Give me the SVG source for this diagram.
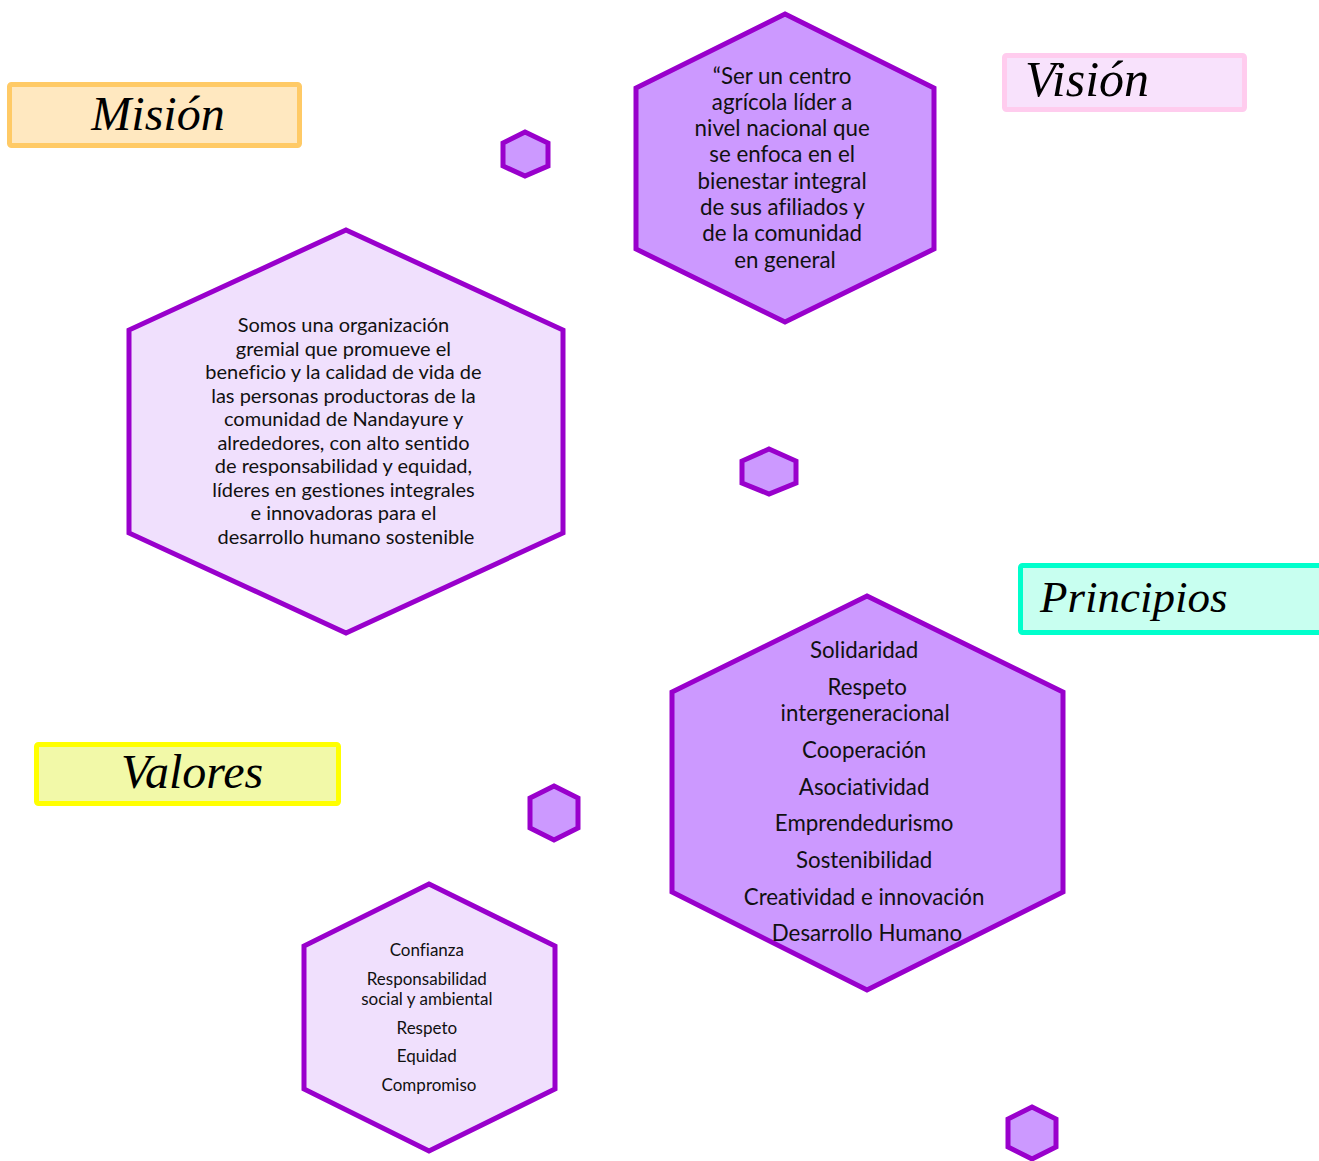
<svg xmlns="http://www.w3.org/2000/svg" width="1319" height="1161" viewBox="0 0 1319 1161">
<style>
.hexd{fill:#CC99FF;stroke:#9900CC;stroke-width:5;stroke-linejoin:miter}
.hexl{fill:#F0E0FD;stroke:#9900CC;stroke-width:5}
.hexs{fill:#CC99FF;stroke:#9900CC;stroke-width:5}
.title{font-family:"Liberation Serif",serif;font-style:italic;fill:#000}
.body{font-family:Lato,"Liberation Sans",sans-serif;fill:#111;text-anchor:middle;font-variant-ligatures:none}
</style>
<rect width="1319" height="1161" fill="#fff"/>
<g id="mision-title">
<rect x="9.5" y="84.5" width="290" height="61" rx="2" fill="#FFE8C0" stroke="#FFCA66" stroke-width="5"/>
<text class="title" font-size="48" x="158" y="130" text-anchor="middle">Misión</text>
</g>
<g id="vision-title">
<rect x="1004.5" y="55.5" width="240" height="54" rx="2" fill="#F8E2FC" stroke="#FFCCEE" stroke-width="5"/>
<text class="title" font-size="50" x="1025" y="96">Visión</text>
</g>
<g id="principios-title">
<rect x="1020.5" y="565.5" width="310" height="67" rx="2" fill="#C8FFF0" stroke="#00FFCC" stroke-width="5"/>
<text class="title" font-size="45" x="1040" y="612">Principios</text>
</g>
<g id="valores-title">
<rect x="36.5" y="744.5" width="302" height="59" rx="2" fill="#F2F9A8" stroke="#FFFF00" stroke-width="5"/>
<text class="title" font-size="48" x="192" y="788" text-anchor="middle">Valores</text>
</g>
<g id="hex-small-1"><polygon class="hexs" points="525,132 548,143 548,166 525,176 503,166 503,143"/></g>
<g id="hex-small-2"><polygon class="hexs" points="769,449 796,461 796,483 769,494 742,483 742,461"/></g>
<g id="hex-small-3"><polygon class="hexs" points="554,786 578,798 578,828 554,840 530,828 530,798"/></g>
<g id="hex-small-4"><polygon class="hexs" points="1032,1107 1056,1119 1056,1147 1032,1159 1008,1147 1008,1119"/></g>
<g id="vision">
<polygon class="hexd" points="785,14 934,88 934,249 785,322 636,249 636,88"/>
<text class="body" font-size="22.3">
<tspan x="785" y="84">“Ser un centro</tspan>
<tspan x="785" y="110">agrícola líder a</tspan>
<tspan x="785" y="136">nivel nacional que</tspan>
<tspan x="785" y="162">se enfoca en el</tspan>
<tspan x="785" y="189">bienestar integral</tspan>
<tspan x="785" y="215">de sus afiliados y</tspan>
<tspan x="785" y="241">de la comunidad</tspan>
<tspan x="785" y="268">en general</tspan>
</text>
</g>
<g id="mision">
<polygon class="hexl" points="346,230 563,330 563,533 346,633 129,533 129,330"/>
<text class="body" font-size="20">
<tspan x="346" y="332">Somos una organización</tspan>
<tspan x="346" y="356">gremial que promueve el</tspan>
<tspan x="346" y="379">beneficio y la calidad de vida de</tspan>
<tspan x="346" y="403">las personas productoras de la</tspan>
<tspan x="346" y="426">comunidad de Nandayure y</tspan>
<tspan x="346" y="450">alrededores, con alto sentido</tspan>
<tspan x="346" y="473">de responsabilidad y equidad,</tspan>
<tspan x="346" y="497">líderes en gestiones integrales</tspan>
<tspan x="346" y="520">e innovadoras para el</tspan>
<tspan x="346" y="544">desarrollo humano sostenible</tspan>
</text>
</g>
<g id="principios">
<polygon class="hexd" points="867,596 1063,692 1063,892 867,990 672,892 672,692"/>
<text class="body" font-size="22.3">
<tspan x="867" y="658">Solidaridad</tspan>
<tspan x="870" y="695">Respeto</tspan>
<tspan x="868" y="721">intergeneracional</tspan>
<tspan x="867" y="758">Cooperación</tspan>
<tspan x="867" y="795">Asociatividad</tspan>
<tspan x="867" y="831">Emprendedurismo</tspan>
<tspan x="867" y="868">Sostenibilidad</tspan>
<tspan x="867" y="905">Creatividad e innovación</tspan>
<tspan x="867" y="941">Desarrollo Humano</tspan>
</text>
</g>
<g id="valores">
<polygon class="hexl" points="429,884 555,946 555,1089 429,1151 304,1089 304,946"/>
<text class="body" font-size="17">
<tspan x="429" y="956">Confianza</tspan>
<tspan x="429" y="985">Responsabilidad</tspan>
<tspan x="429" y="1005">social y ambiental</tspan>
<tspan x="429" y="1034">Respeto</tspan>
<tspan x="429" y="1062">Equidad</tspan>
<tspan x="429" y="1091">Compromiso</tspan>
</text>
</g>
<g id="connectors"></g>
</svg>
